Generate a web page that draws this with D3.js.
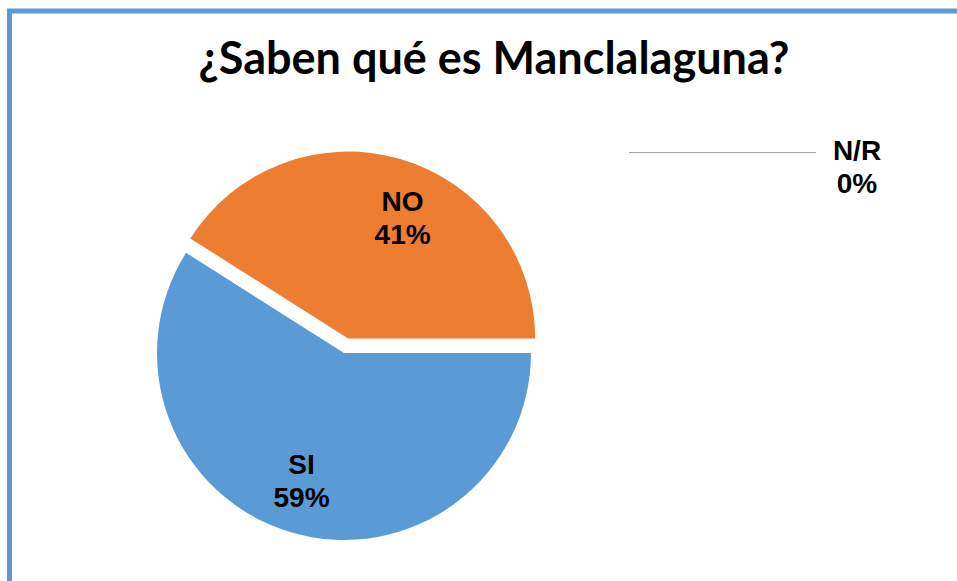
<!DOCTYPE html>
<html>
<head>
<meta charset="utf-8">
<script src="https://cdn.jsdelivr.net/npm/d3@7"></script>
<style>
  body { margin: 0; background: #fff; }
  text { font-family: "Liberation Sans", Arial, sans-serif; font-weight: bold; fill: #000; }
  .title { font-family: Lato, "Open Sans", sans-serif; }
</style>
</head>
<body>
<div id="chart"></div>
<script>
var categories = ["SI", "NO", "N/R"];
var values = [59, 41, 0];
var percentLabels = ["59%", "41%", "0%"];
var colors = ["#5b9bd5", "#ed7d31", "#a5a5a5"];
var titleText = "¿Saben qué es Manclalaguna?";

var width = 957, height = 581;
var cx = 344, cy = 353, radius = 187;
var explode = [0, 15, 0];
var labelNudgeX = [-8, 20, 0];
var labelNudgeY = [8, -3, 0];

var svg = d3.select("#chart").append("svg")
	.attr("width", width)
	.attr("height", height);

// frame (right and bottom run past the picture)
svg.append("rect")
	.attr("x", 9.5)
	.attr("y", 11)
	.attr("width", 1000)
	.attr("height", 700)
	.attr("fill", "none")
	.attr("stroke", "#5b9bd5")
	.attr("stroke-width", 5);

svg.append("text")
	.attr("class", "title")
	.attr("x", 494)
	.attr("y", 74)
	.attr("text-anchor", "middle")
	.style("font-size", "45px")
	.text(titleText);

var pie = d3.pie()
	.sort(null)
	.startAngle(Math.PI / 2)
	.endAngle(Math.PI / 2 + 2 * Math.PI);

var arc = d3.arc()
	.innerRadius(0)
	.outerRadius(radius);

var labelArc = d3.arc()
	.innerRadius(radius * 0.66)
	.outerRadius(radius * 0.66);

var piedata = pie(values);

var slices = svg.selectAll(".slice")
	.data(piedata)
	.enter()
	.append("g")
	.attr("class", "slice")
	.attr("transform", function(d, i){
		var mid = (d.startAngle + d.endAngle) / 2;
		var dx = Math.sin(mid) * explode[i];
		var dy = -Math.cos(mid) * explode[i];
		return "translate(" + (cx + dx) + "," + (cy + dy) + ")";
	});

slices.append("path")
	.attr("d", function(d){ return d.value > 0 ? arc(d) : null; })
	.attr("fill", function(d, i){ return colors[i]; });

slices.filter(function(d){ return d.value > 0; })
	.each(function(d, i){
		var c = labelArc.centroid(d);
		var x = c[0] + labelNudgeX[i], y = c[1] + labelNudgeY[i];
		var g = d3.select(this);
		g.append("text")
			.attr("x", x)
			.attr("y", y - 6)
			.attr("text-anchor", "middle")
			.style("font-size", "28px")
			.text(categories[i]);
		g.append("text")
			.attr("x", x)
			.attr("y", y + 27)
			.attr("text-anchor", "middle")
			.style("font-size", "28px")
			.text(percentLabels[i]);
	});

// zero slice label sits outside with a leader line
var lx = 857, ly = 160;
svg.append("line")
	.attr("x1", 629)
	.attr("x2", 816)
	.attr("y1", 152.5)
	.attr("y2", 152.5)
	.attr("stroke", "#a6a6a6")
	.attr("stroke-width", 1);
svg.append("text")
	.attr("x", lx)
	.attr("y", ly)
	.attr("text-anchor", "middle")
	.style("font-size", "28px")
	.text(categories[2]);
svg.append("text")
	.attr("x", lx)
	.attr("y", ly + 33)
	.attr("text-anchor", "middle")
	.style("font-size", "28px")
	.text(percentLabels[2]);
</script>
</body>
</html>
